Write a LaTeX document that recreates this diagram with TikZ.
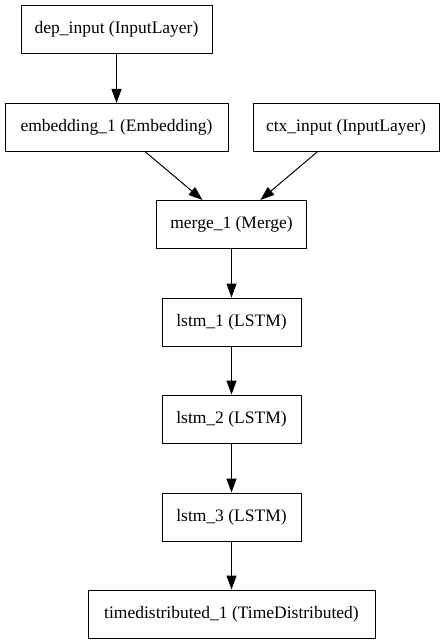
\documentclass[tikz,border=0pt]{standalone}
\usepackage{fontspec}
\setmainfont{Liberation Serif}
\usetikzlibrary{arrows.meta}
\begin{document}
\begin{tikzpicture}[x=1pt,y=-1pt,
  layer/.style={draw,line width=1pt,rectangle,minimum height=48pt,inner sep=0pt,font=\fontsize{17.5}{20}\selectfont},
  conn/.style={line width=1pt,-{Triangle[length=14pt,width=10pt]}}]
\useasboundingbox (0,0) rectangle (445,644);
\node[layer,minimum width=191pt] (dep) at (116.5,29.5) {dep\_input (InputLayer)};
\node[layer,minimum width=223pt] (emb) at (116.5,127.5) {embedding\_1 (Embedding)};
\node[layer,minimum width=186pt] (ctx) at (346,127.5) {ctx\_input (InputLayer)};
\node[layer,minimum width=150pt] (merge) at (231.5,224.5) {merge\_1 (Merge)};
\node[layer,minimum width=139pt] (l1) at (231.5,322) {lstm\_1 (LSTM)};
\node[layer,minimum width=139pt] (l2) at (231.5,419) {lstm\_2 (LSTM)};
\node[layer,minimum width=139pt] (l3) at (231.5,517) {lstm\_3 (LSTM)};
\node[layer,minimum width=287pt] (td) at (231.5,614) {timedistributed\_1 (TimeDistributed)};
\draw[conn] (dep) -- (emb);
\draw[conn] (emb) -- (merge);
\draw[conn] (ctx) -- (merge);
\draw[conn] (merge) -- (l1);
\draw[conn] (l1) -- (l2);
\draw[conn] (l2) -- (l3);
\draw[conn] (l3) -- (td);
\end{tikzpicture}
\end{document}
